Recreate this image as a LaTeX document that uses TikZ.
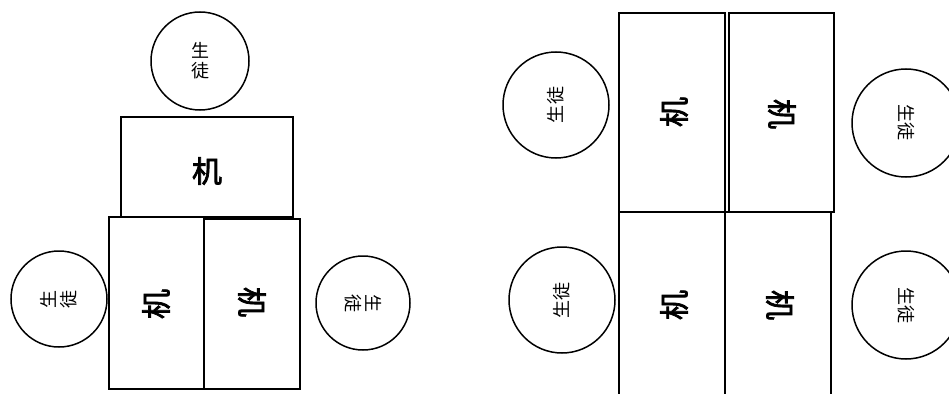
\documentclass[tikz,border=0pt]{standalone}
\usepackage{fontspec}
\newfontfamily\cjk{Noto Sans CJK JP}
\newfontfamily\cjkb[FakeBold=2.5]{Noto Sans CJK JP}
\begin{document}
\begin{tikzpicture}[x=1pt,y=-1pt,
  seat/.style={draw,circle,line width=1.5pt,inner sep=0pt},
  seattext/.style={font=\cjk\fontsize{18}{19}\selectfont,inner sep=0pt,align=center},
  desktext/.style={font=\cjkb\fontsize{30}{32}\selectfont,inner sep=0pt},
  deskline/.style={line width=1.6pt}]
\useasboundingbox (0,0) rectangle (949,393);
\clip (0,0) rectangle (949,393);
% ---------- panel 1 ----------
\draw[deskline] (121,117) rectangle (293,217);
\draw[deskline] (109,217) rectangle (204,389);
\draw[deskline] (204,219) rectangle (300,389);
\node[desktext] (p1top) at (207,171) {机};
\node[desktext,rotate=90] (p1left) at (156,304) {机};
\node[desktext,rotate=-90] (p1right) at (252,302) {机};
\node[seat,minimum size=98pt] (s1top) at (200,61) {};
\node[seattext] (t1top) at (s1top) {生\\[1pt]徒};
\node[seat,minimum size=96pt] (s1left) at (59,299) {};
\node[seattext,rotate=90] (t1left) at (s1left) {生\\[1pt]徒};
\node[seat,minimum size=94pt] (s1right) at (363,303) {};
\node[seattext,rotate=-90] (t1right) at (s1right) {生\\[1pt]徒};
% ---------- panel 2 ----------
\draw[deskline] (619,13) rectangle (725,212);
\draw[deskline] (729,13) rectangle (834,212);
\draw[deskline] (619,400) -- (619,212) -- (725,212) -- (725,400);
\draw[deskline] (725,212) -- (831,212) -- (831,400);
\node[desktext,rotate=90] (p2tl) at (674,112) {机};
\node[desktext,rotate=-90] (p2tr) at (782,114) {机};
\node[desktext,rotate=90] (p2bl) at (674,305) {机};
\node[desktext,rotate=-90] (p2br) at (780,305) {机};
\node[seat,minimum size=106pt] (s2tl) at (556,105) {};
\node[seattext,rotate=90] (t2tl) at (s2tl) {生徒};
\node[seat,minimum size=106pt] (s2bl) at (562,300) {};
\node[seattext,rotate=90] (t2bl) at (s2bl) {生徒};
\node[seat,minimum size=108pt] (s2tr) at (906,123) {};
\node[seattext,rotate=-90] (t2tr) at (s2tr) {生徒};
\node[seat,minimum size=108pt] (s2br) at (906,305) {};
\node[seattext,rotate=-90] (t2br) at (s2br) {生徒};
\end{tikzpicture}
\end{document}
